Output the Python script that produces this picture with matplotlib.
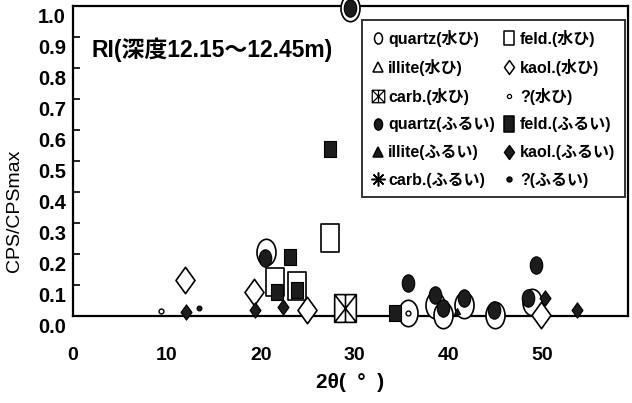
import matplotlib
matplotlib.use('Agg')
import matplotlib.pyplot as plt
from matplotlib.path import Path
from matplotlib.lines import Line2D
import matplotlib.transforms as mtrans
import numpy as np

plt.rcParams['font.family'] = ['Liberation Sans', 'Noto Sans CJK JP', 'DejaVu Sans']

# ---------------- data (2θ, CPS/CPSmax) ----------------
quartz_w_x = [20.5, 29.5, 35.7, 38.6, 39.4, 41.6, 44.9, 48.9]
quartz_w_y = [0.207, 0.995, 0.010, 0.036, 0.003, 0.036, 0.003, 0.045]
quartz_f_x = [20.4, 29.5, 35.7, 38.5, 39.4, 41.6, 44.8, 49.3, 48.5]
quartz_f_y = [0.187, 0.995, 0.106, 0.068, 0.026, 0.058, 0.019, 0.165, 0.058]
feld_w_x = [21.5, 23.9, 27.4]
feld_w_y = [0.110, 0.097, 0.252]
feld_f_x = [23.1, 21.7, 23.8, 27.4, 34.3]
feld_f_y = [0.190, 0.077, 0.084, 0.539, 0.010]
kaol_w_x = [11.9, 19.3, 24.9, 49.8]
kaol_w_y = [0.116, 0.077, 0.019, 0.003]
kaol_f_x = [12.0, 19.4, 22.4, 50.3, 53.7]
kaol_f_y = [0.013, 0.019, 0.029, 0.058, 0.019]
illite_w_x, illite_w_y = [], []
illite_f_x = [40.9]
illite_f_y = [0.015]
carb_w_x = [29.0]
carb_w_y = [0.026]
carb_f_x, carb_f_y = [], []
unk_w_x = [9.4, 35.7]
unk_w_y = [0.016, 0.010]
unk_f_x = [13.4]
unk_f_y = [0.026]

labels = {
    'quartz_w': 'quartz(水ひ)', 'feld_w': 'feld.(水ひ)',
    'illite_w': 'illite(水ひ)', 'kaol_w': 'kaol.(水ひ)',
    'carb_w': 'carb.(水ひ)', 'unk_w': '?(水ひ)',
    'quartz_f': 'quartz(ふるい)', 'feld_f': 'feld.(ふるい)',
    'illite_f': 'illite(ふるい)', 'kaol_f': 'kaol.(ふるい)',
    'carb_f': 'carb.(ふるい)', 'unk_f': '?(ふるい)',
}
y_ticks = [0.0, 0.1, 0.2, 0.3, 0.4, 0.5, 0.6, 0.7, 0.8, 0.9, 1.0]
x_ticks = [0, 10, 20, 30, 40, 50]

# ---------------- custom marker shapes ----------------
uc = Path.unit_circle()
ellipse = Path(uc.vertices * np.array([0.72, 1.0]), uc.codes)
M, L, C = Path.MOVETO, Path.LINETO, Path.CLOSEPOLY
rect = Path([(-0.34, -0.5), (0.34, -0.5), (0.34, 0.5), (-0.34, 0.5), (0, 0)],
            [M, L, L, L, C])
diamond = Path([(0, -0.5), (0.36, 0), (0, 0.5), (-0.36, 0), (0, 0)],
               [M, L, L, L, C])
bw = 0.39
carb = Path([(-bw, -0.5), (bw, -0.5), (bw, 0.5), (-bw, 0.5), (0, 0),
             (-bw, -0.5), (bw, 0.5), (-bw, 0.5), (bw, -0.5), (0, -0.5), (0, 0.5)],
            [M, L, L, L, C, M, L, M, L, M, L])
sq = 0.5
carb_leg = Path([(-sq, -0.5), (sq, -0.5), (sq, 0.5), (-sq, 0.5), (0, 0),
                 (-sq, -0.5), (sq, 0.5), (-sq, 0.5), (sq, -0.5), (0, -0.5), (0, 0.5)],
                [M, L, L, L, C, M, L, M, L, M, L])

DARK = '#1c1c1c'

fig = plt.figure(figsize=(6.32, 4.03), dpi=100)
ax = fig.add_axes([73 / 632, 1 - 316 / 403, (628 - 73) / 632, (316 - 6) / 403])

def plot(xs, ys, marker, ms, filled, z, mew=1.2):
    ax.plot(xs, ys, linestyle='none', marker=marker, markersize=ms,
            markerfacecolor=DARK if filled else 'white',
            markeredgecolor='black', markeredgewidth=mew, zorder=z, clip_on=False)

# open (水ひ) markers
plot(quartz_w_x, quartz_w_y, ellipse, 19, False, 3)
plot(feld_w_x, feld_w_y, rect, 20, False, 3)
plot(kaol_w_x, kaol_w_y, diamond, 19, False, 3)
plot(illite_w_x, illite_w_y, '^', 12, False, 3)
plot(carb_w_x, carb_w_y, carb, 20, False, 3)
# filled (ふるい) markers
plot(quartz_f_x, quartz_f_y, ellipse, 12.5, True, 4, 0.8)
plot(feld_f_x, feld_f_y, rect, 12, True, 4, 0.8)
plot(kaol_f_x, kaol_f_y, diamond, 11, True, 4, 0.8)
plot(illite_f_x, illite_f_y, '^', 5, True, 4, 0.8)
plot(carb_f_x, carb_f_y, (8, 2, 0), 9, True, 4)
plot(unk_f_x, unk_f_y, 'o', 3.5, True, 5, 0.8)
plot(unk_w_x, unk_w_y, 'o', 3.5, False, 5, 1.0)

ax.set_xlim(0, 59.1)
ax.set_ylim(0, 1.0)
ax.set_xticks(x_ticks)
ax.set_yticks(y_ticks)
ax.set_yticklabels([f'{v:.1f}' for v in y_ticks])
for s in ax.spines.values():
    s.set_linewidth(1.6)
ax.tick_params(axis='x', length=0, pad=22, labelsize=14)
ax.tick_params(axis='y', direction='in', length=5, width=1.2, pad=5, labelsize=14.5)
off = mtrans.ScaledTranslation(0, -6.5 / 72, fig.dpi_scale_trans)
for lab in ax.get_yticklabels():
    lab.set_transform(lab.get_transform() + off)
    lab.set_fontweight('bold')
for lab in ax.get_xticklabels():
    lab.set_fontweight('bold')

ax.set_ylabel('CPS/CPSmax', fontsize=14)
ax.yaxis.set_label_coords(-0.09, 0.34)
ax.set_xlabel('2θ(  °  )', fontsize=15, fontweight='bold', labelpad=7)

ax.text(0.034, 0.858, 'RI(深度12.15～12.45m)', transform=ax.transAxes,
        fontsize=16.5, fontweight='bold', va='center', ha='left')

# ---------------- legend ----------------
def h(marker, ms, filled, label, mew=1.1):
    return Line2D([], [], linestyle='none', marker=marker, markersize=ms,
                  markerfacecolor=DARK if filled else 'white',
                  markeredgecolor='black', markeredgewidth=mew, label=label)

handles = [
    h(ellipse, 8, False, labels['quartz_w']),
    h('^', 7, False, labels['illite_w']),
    h(carb_leg, 9, False, labels['carb_w'], 0.9),
    h(ellipse, 8, True, labels['quartz_f']),
    h('^', 7, True, labels['illite_f']),
    h((8, 2, 0), 10, True, labels['carb_f']),
    h(rect, 10, False, labels['feld_w']),
    h(diamond, 10, False, labels['kaol_w']),
    h('o', 3, False, labels['unk_w'], 0.9),
    h(rect, 11, True, labels['feld_f']),
    h(diamond, 10, True, labels['kaol_f']),
    h('o', 3.5, True, labels['unk_f']),
]
leg = ax.legend(handles=handles, ncol=2, loc='upper right',
                bbox_to_anchor=(0.994, 0.955), frameon=True, fancybox=False,
                prop={'size': 11.5, 'weight': 'bold'}, labelspacing=0.76,
                handlelength=0.8, handletextpad=0.25, columnspacing=0.5,
                borderpad=0.6, borderaxespad=0.0)
leg.get_frame().set_edgecolor('black')
leg.get_frame().set_linewidth(1.4)
leg.set_zorder(6)

fig.savefig('out.png', dpi=100)
